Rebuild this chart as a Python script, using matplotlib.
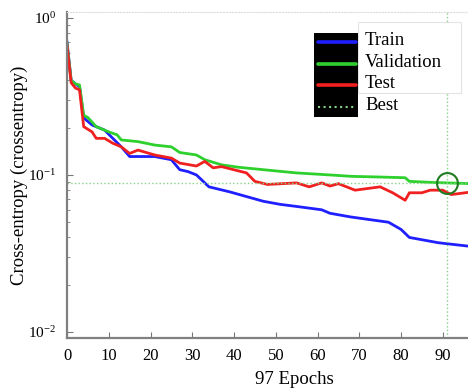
import matplotlib
matplotlib.use('Agg')
import matplotlib.pyplot as plt
from matplotlib.patches import Rectangle
from matplotlib.lines import Line2D

plt.rcParams['font.family'] = ['Liberation Serif', 'DejaVu Serif']
plt.rcParams['mathtext.fontset'] = 'custom'
plt.rcParams['mathtext.rm'] = 'Liberation Serif'

# performance curves (epoch, cross-entropy)
train_ep = [0, 1, 2, 3, 4, 6, 9, 13, 15, 21, 25, 27, 29, 31, 34, 39, 47, 51, 55, 61, 63, 68, 77, 80, 82, 89, 97]
train_val = [0.70, 0.40, 0.38, 0.365, 0.231, 0.208, 0.193, 0.151, 0.131, 0.131, 0.125, 0.108, 0.105, 0.100,
             0.084, 0.078, 0.068, 0.065, 0.063, 0.060, 0.057, 0.054, 0.050, 0.045, 0.040, 0.037, 0.035]

valid_ep = [0, 1, 2, 3, 4, 5, 7, 10, 12, 13, 17, 21, 25, 27, 31, 33, 37, 41, 47, 55, 63, 68, 75, 81, 82, 88, 91, 97]
valid_val = [0.69, 0.40, 0.38, 0.374, 0.24, 0.232, 0.203, 0.188, 0.180, 0.167, 0.163, 0.155, 0.151, 0.139,
             0.134, 0.125, 0.116, 0.112, 0.108, 0.103, 0.100, 0.098, 0.097, 0.096, 0.091, 0.0895, 0.089, 0.088]

test_ep = [0, 1, 2, 3, 4, 6, 7, 9, 11, 13, 15, 17, 21, 25, 27, 31, 33, 35, 37, 43, 45, 48, 55, 58, 61, 63,
           65, 69, 75, 78, 81, 82, 85, 87, 90, 92, 97]
test_val = [0.67, 0.386, 0.358, 0.348, 0.203, 0.188, 0.171, 0.171, 0.159, 0.151, 0.137, 0.144, 0.134, 0.128,
            0.119, 0.114, 0.122, 0.111, 0.113, 0.103, 0.091, 0.087, 0.089, 0.084, 0.089, 0.085, 0.088, 0.080,
            0.084, 0.077, 0.069, 0.077, 0.077, 0.080, 0.080, 0.075, 0.078]

best_epoch = 91
best_perf = 0.089
n_epochs = 97

W, H = 468, 392
fig = plt.figure(figsize=(W / 100, H / 100), dpi=100)
ax = fig.add_axes([67 / W, 1 - 338 / H, (472 - 67) / W, (338 - 12) / H])

ax.plot(train_ep, train_val, color='#1f1fff', lw=2.0)
ax.plot(valid_ep, valid_val, color='#2ed02e', lw=2.0)
ax.plot(test_ep, test_val, color='#f02020', lw=2.0)
ax.axhline(best_perf, color='#86d086', lw=1.0, ls=':')
ax.axvline(best_epoch, color='#86d086', lw=1.0, ls=':')
ax.plot([best_epoch], [best_perf], 'o', mfc='none', mec='#207a20', ms=15, mew=1.5)

ax.set_yscale('log')
ax.set_xlim(0, n_epochs)
ax.set_ylim(0.00916, 1.09)
ax.set_xticks(range(0, 100, 10))
ax.tick_params(direction='in', length=4, color='#777777', labelsize=12)
ax.tick_params(axis='x', pad=7)
ax.tick_params(axis='y', pad=8, labelsize=11)
ax.tick_params(which='minor', direction='in', length=2.5, color='#777777')
for s in ['left', 'bottom']:
    ax.spines[s].set_color('#808080')
    ax.spines[s].set_linewidth(1.6)
ax.spines['right'].set_visible(False)
ax.spines['top'].set_color('#dddddd')
ax.spines['top'].set_linestyle(':')

ax.set_ylabel('Cross-entropy (crossentropy)', fontsize=13.5)
ax.yaxis.set_label_coords(-0.097, 0.5)
fig.text(294 / W, 1 - 379 / H, '97 Epochs', ha='center', va='center', fontsize=13.5)


# legend drawn by hand: black handle box, white text box
def fx(px):
    return px / W


def fy(py):
    return 1 - py / H


fig.patches.append(Rectangle((fx(358), fy(93)), fx(461) - fx(358), fy(22) - fy(93),
                             transform=fig.transFigure, facecolor='white', edgecolor='#e4e4e4', lw=0.8))
fig.patches.append(Rectangle((fx(314), fy(117)), fx(358) - fx(314), fy(33) - fy(117),
                             transform=fig.transFigure, facecolor='black', edgecolor='none'))
names = ['Train', 'Validation', 'Test', 'Best']
colors = ['#1f1fff', '#2ed02e', '#f02020', '#86d086']
rows = [41.5, 63.5, 85, 106.5]
for name, c, r in zip(names, colors, rows):
    ls = ':' if name == 'Best' else '-'
    lw = 1.5 if name == 'Best' else 2.6
    fig.lines.append(Line2D([fx(318), fx(356)], [fy(r), fy(r)], transform=fig.transFigure,
                            color=c, lw=lw, ls=ls, solid_capstyle='round'))
    fig.text(fx(365), fy(r - 1), name, ha='left', va='center', fontsize=13.5)

fig.savefig('out.png', dpi=100)
